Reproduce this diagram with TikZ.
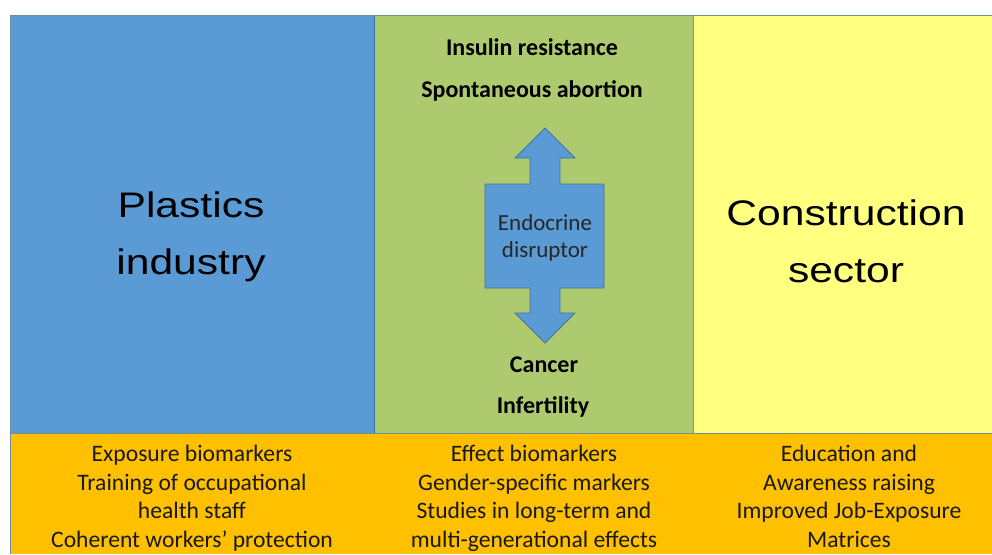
\documentclass[tikz,border=0pt]{standalone}
\usepackage{fontspec}
\setmainfont{Carlito}
\newfontfamily\arialw[FakeStretch=1.2]{Liberation Sans}
\definecolor{pblue}{RGB}{91,155,213}
\definecolor{pblueline}{RGB}{65,113,156}
\definecolor{pgreen}{RGB}{173,203,110}
\definecolor{pyellow}{RGB}{255,255,128}
\definecolor{porange}{RGB}{255,192,0}
\definecolor{pborder}{RGB}{110,140,160}
\tikzset{
  bigtext/.style={font=\arialw\fontsize{35.5}{57}\selectfont, align=center, anchor=base, inner sep=0pt, text=black},
  effect/.style={font=\bfseries\fontsize{24}{27}\selectfont, anchor=base, inner sep=0pt, text=black},
  action/.style={font=\fontsize{23.6}{28.5}\selectfont, align=center, anchor=base, inner sep=0pt, text=black!90},
  endotext/.style={font=\fontsize{23}{27}\selectfont, align=center, anchor=base, inner sep=0pt, text=black!85},
}
\begin{document}
\begin{tikzpicture}[x=1pt,y=-1pt]
\useasboundingbox (0,0) rectangle (992,554);
\fill[white] (0,0) rectangle (992,554);
% panels
\fill[pblue] (10,15.5) rectangle (374,433);
\fill[pgreen] (374,15.5) rectangle (694,433);
\fill[pyellow] (694,15.5) rectangle (992,433);
\fill[porange] (10,433) rectangle (992,554);
\draw[pblueline, line width=0.8pt] (374,15.5) -- (374,433);
\draw[pgreen!80!black, line width=0.8pt] (693.5,15.5) -- (693.5,433);
\draw[pborder, line width=1pt] (10,554) -- (10,15.5) -- (992,15.5);
\draw[pborder, line width=1pt] (10,433) -- (992,433);
% double arrow
\draw[fill=pblue, draw=pblueline, line width=0.8pt, line join=miter]
  (545,128) -- (575,158) -- (560,158) -- (560,184) -- (604,184) -- (604,288)
  -- (560,288) -- (560,313) -- (575,313) -- (545,343) -- (515,313) -- (530,313)
  -- (530,288) -- (485,288) -- (485,184) -- (530,184) -- (530,158) -- (515,158) -- cycle;
\node[endotext] (endo) at (545,257) {Endocrine\\disruptor};
% sector titles
\node[bigtext] (plastics) at (191,274) {Plastics\\industry};
\node[bigtext] (construction) at (846,282) {Construction\\sector};
% effects
\node[effect] (insulin) at (532,55) {Insulin resistance};
\node[effect] (abortion) at (532,97) {Spontaneous abortion};
\node[effect] (cancer) at (544,372) {Cancer};
\node[effect] (infertility) at (543,413) {Infertility};
% actions
\node[action] (act1) at (192,547) {Exposure biomarkers\\Training of occupational\\health staff\\Coherent workers’ protection};
\node[action] (act2) at (534,547) {Effect biomarkers\\Gender-specific markers\\Studies in long-term and\\multi-generational effects};
\node[action] (act3) at (849,547) {Education and\\Awareness raising\\Improved Job-Exposure\\Matrices};
\end{tikzpicture}
\end{document}
